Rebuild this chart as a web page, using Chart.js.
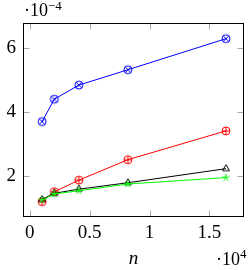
<!DOCTYPE html>
<html>
<head>
<meta charset="utf-8">
<script src="https://cdn.jsdelivr.net/npm/chart.js@4.4.0/dist/chart.umd.min.js"></script>
<style>
  html, body { margin: 0; padding: 0; background: #fff; }
  #wrap { width: 250px; height: 270px; position: relative; }
</style>
</head>
<body>
<div id="wrap"><canvas id="myChart" width="250" height="270"></canvas></div>
<script>
// data (y in units of 1e-4)
const nValues = [1024, 2048, 4096, 8192, 16384];
const blueErr = [3.71, 4.41, 4.85, 5.33, 6.30];
const redErr = [1.21, 1.52, 1.88, 2.52, 3.42];
const blackErr = [1.28, 1.47, 1.60, 1.80, 2.24];
const greenErr = [1.26, 1.45, 1.55, 1.76, 1.96];
const xTicks = [0, 5000, 10000, 15000];
const yTicks = [2, 4, 6];

const FONT = '"Liberation Serif", serif';

// little canvases used as point styles
const makeMarker = (kind, color) => {
    const c = document.createElement('canvas');
    c.width = 12;
    c.height = 12;
    const g = c.getContext('2d');
    const m = 6, r = 4;
    g.strokeStyle = color;
    g.lineWidth = 1;
    g.beginPath();
    if (kind === 'otimes' || kind === 'oplus') {
        g.arc(m, m, r, 0, Math.PI * 2);
        if (kind === 'otimes') {
            const d = r * Math.SQRT1_2;
            g.moveTo(m - d, m - d); g.lineTo(m + d, m + d);
            g.moveTo(m - d, m + d); g.lineTo(m + d, m - d);
        } else {
            g.moveTo(m - r, m); g.lineTo(m + r, m);
            g.moveTo(m, m - r); g.lineTo(m, m + r);
        }
    } else if (kind === 'triangle') {
        g.moveTo(m, m - r);
        g.lineTo(m - r * 0.866, m + r / 2);
        g.lineTo(m + r * 0.866, m + r / 2);
        g.closePath();
    } else if (kind === 'star') {
        for (let i = 0; i < 5; i++) {
            const a = -Math.PI / 2 + i * 2 * Math.PI / 5;
            g.moveTo(m, m);
            g.lineTo(m + r * Math.cos(a), m + r * Math.sin(a));
        }
    }
    g.stroke();
    return c;
};

const toPoints = ys => ys.map((y, i) => ({x: nValues[i], y: y}));

const makeSet = (label, ys, color, mark, order) => ({
    label: label,
    data: toPoints(ys),
    borderColor: color,
    backgroundColor: color,
    borderWidth: 1,
    pointStyle: makeMarker(mark, color),
    pointRadius: 5,
    tension: 0,
    order: order
});

// frame, inner tick marks and the exponent texts
const framePlugin = {
    id: 'pgfFrame',
    afterDatasetsDraw: (chart) => {
        const {ctx, chartArea: a, scales} = chart;
        const L = Math.round(a.left) + 0.5, R = Math.round(a.right) - 0.5;
        const T = Math.round(a.top) + 0.5, B = Math.round(a.bottom) - 0.5;
        const tl = 6;
        ctx.save();
        ctx.strokeStyle = '#a8a8a8';
        ctx.lineWidth = 1;
        ctx.beginPath();
        xTicks.forEach(v => {
            const px = Math.round(scales.x.getPixelForValue(v)) + 0.5;
            ctx.moveTo(px, B); ctx.lineTo(px, B - tl);
            ctx.moveTo(px, T); ctx.lineTo(px, T + tl);
        });
        yTicks.forEach(v => {
            const py = Math.round(scales.y.getPixelForValue(v)) + 0.5;
            ctx.moveTo(L, py); ctx.lineTo(L + tl, py);
            ctx.moveTo(R, py); ctx.lineTo(R - tl, py);
        });
        ctx.stroke();
        ctx.strokeStyle = '#000';
        ctx.strokeRect(L, T, R - L, B - T);

        ctx.fillStyle = '#000';
        ctx.textBaseline = 'alphabetic';
        ctx.textAlign = 'left';
        // y exponent
        ctx.font = '18px ' + FONT;
        ctx.fillText('\u00b710', 24, 16);
        ctx.font = '13px ' + FONT;
        ctx.fillText('\u22124', 48, 10);
        // x exponent
        ctx.font = '18px ' + FONT;
        ctx.fillText('\u00b710', 216, 265);
        ctx.font = '13px ' + FONT;
        ctx.fillText('4', 240, 258);
        // axis label
        ctx.font = 'italic 19px ' + FONT;
        ctx.textAlign = 'center';
        ctx.fillText('n', (a.left + a.right) / 2, 264);
        ctx.restore();
    }
};

const ctx = document.getElementById('myChart').getContext('2d');
const myChart = new Chart(ctx, {
    type: 'line',
    data: {
        datasets: [
            makeSet('blue', blueErr, '#0000ff', 'otimes', 4),
            makeSet('red', redErr, '#ff0000', 'oplus', 3),
            makeSet('black', blackErr, '#000000', 'triangle', 2),
            makeSet('green', greenErr, '#00ff00', 'star', 1)
        ]
    },
    options: {
        responsive: false,
        animation: false,
        layout: {
            padding: {top: 23, right: 1, left: 0, bottom: 0}
        },
        plugins: {
            legend: {display: false},
            tooltip: {enabled: false}
        },
        scales: {
            x: {
                type: 'linear',
                min: -570,
                max: 17890,
                afterBuildTicks: s => { s.ticks = xTicks.map(v => ({value: v})); },
                afterFit: s => { s.height = 53; },
                grid: {display: false, drawTicks: false},
                border: {display: false},
                ticks: {
                    padding: 5,
                    color: '#000',
                    font: {family: FONT, size: 19},
                    callback: v => String(v / 10000)
                }
            },
            y: {
                type: 'linear',
                min: 0.73,
                max: 6.79,
                afterBuildTicks: s => { s.ticks = yTicks.map(v => ({value: v})); },
                afterFit: s => { s.width = 23; },
                grid: {display: false, drawTicks: false},
                border: {display: false},
                ticks: {
                    padding: 7,
                    color: '#000',
                    font: {family: FONT, size: 19},
                    callback: v => String(v)
                }
            }
        }
    },
    plugins: [framePlugin]
});
</script>
</body>
</html>
